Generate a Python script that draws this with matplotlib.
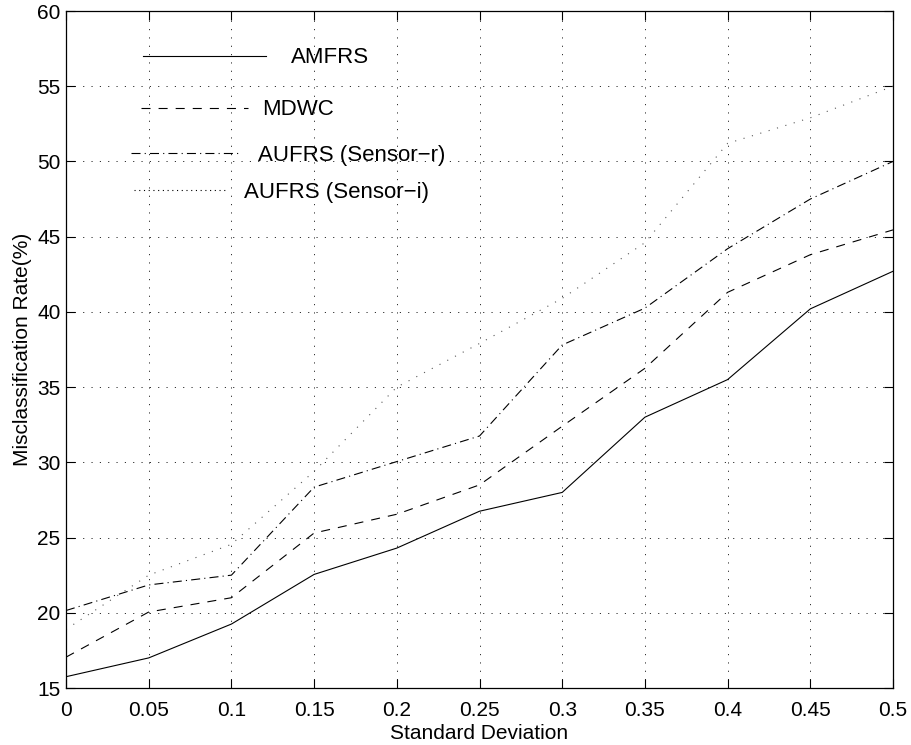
import numpy as np
import matplotlib.pyplot as plt
from matplotlib.lines import Line2D
from matplotlib.legend import Legend

plt.rcParams['font.family'] = ['Liberation Sans', 'DejaVu Sans']
plt.rcParams['lines.scale_dashes'] = False

# Data
std_dev = [0, 0.05, 0.1, 0.15, 0.2, 0.25, 0.3, 0.35, 0.4, 0.45, 0.5]
amfrs = [15.75, 17.0, 19.25, 22.55, 24.3, 26.75, 28.0, 33.0, 35.5, 40.2, 42.7]
mdwc = [17.05, 20.05, 21.0, 25.3, 26.55, 28.5, 32.4, 36.25, 41.3, 43.8, 45.45]
aufrs_r = [20.15, 21.85, 22.5, 28.35, 30.05, 31.75, 37.8, 40.25, 44.2, 47.5, 50.0]
aufrs_i = [18.9, 22.5, 24.55, 29.4, 35.0, 37.9, 40.9, 44.6, 51.2, 52.9, 55.0]
labels = ['AMFRS', 'MDWC', 'AUFRS (Sensor\u2212r)', 'AUFRS (Sensor\u2212i)']

xticks = np.arange(0, 0.5001, 0.05)
xticklabels = ['0', '0.05', '0.1', '0.15', '0.2', '0.25', '0.3', '0.35', '0.4', '0.45', '0.5']
yticks = np.arange(15, 61, 5)

fig = plt.figure(figsize=(9.12, 7.45), dpi=100)
ax = fig.add_axes([66 / 912, 1 - 688 / 745, 827 / 912, 677 / 745])

lw = 0.8
styles = [
    dict(linestyle='-'),
    dict(linestyle=(0, (6.5, 5.8))),
    dict(linestyle=(0, (6.5, 3.0, 0.8, 3.0))),
    dict(linestyle=(0, (0.8, 5.5)), color='0.35'),
]
series = [amfrs, mdwc, aufrs_r, aufrs_i]
for ys, st in zip(series, styles):
    kw = dict(color='k', lw=lw)
    kw.update(st)
    ax.plot(std_dev, ys, **kw)

ax.set_xlim(0, 0.5)
ax.set_ylim(15, 60)
ax.set_xticks(xticks)
ax.set_xticklabels(xticklabels)
ax.set_yticks(yticks)
ax.tick_params(direction='in', length=6.5, width=0.8, labelsize=15,
               top=True, right=True, pad=4)
ax.tick_params(axis='x', pad=9.5)
ax.grid(True, color='k', lw=0.6, linestyle=(0, (0.8, 5.2)))
for s in ax.spines.values():
    s.set_linewidth(0.9)

ax.set_xlabel('Standard Deviation', fontsize=15, labelpad=3)
ax.set_ylabel('Misclassification Rate(%)', fontsize=15, labelpad=4)

# Legend entries laid out like the original (one small legend each)
leg_handles = [
    Line2D([], [], color='k', lw=lw, linestyle='-'),
    Line2D([], [], color='k', lw=lw, linestyle=(0, (6.5, 5.8))),
    Line2D([], [], color='k', lw=lw, linestyle=(0, (6.5, 3.0, 0.8, 3.0))),
    Line2D([], [], color='k', lw=lw, linestyle=(0, (0.8, 2.6))),
]
leg_anchor = [(0.0931, 0.9306), (0.0907, 0.8538), (0.0786, 0.7866), (0.0822, 0.7326)]
leg_hlen = [5.54, 4.82, 4.82, 4.19]
leg_pad = [1.13, 0.63, 0.9, 0.77]
for h, lab, anc, hl, hp in zip(leg_handles, labels, leg_anchor, leg_hlen, leg_pad):
    lg = Legend(ax, [h], [lab], loc='center left', bbox_to_anchor=anc,
                frameon=False, fontsize=16, handlelength=hl, handletextpad=hp,
                borderpad=0, borderaxespad=0)
    ax.add_artist(lg)

fig.savefig('out.png', dpi=100)
